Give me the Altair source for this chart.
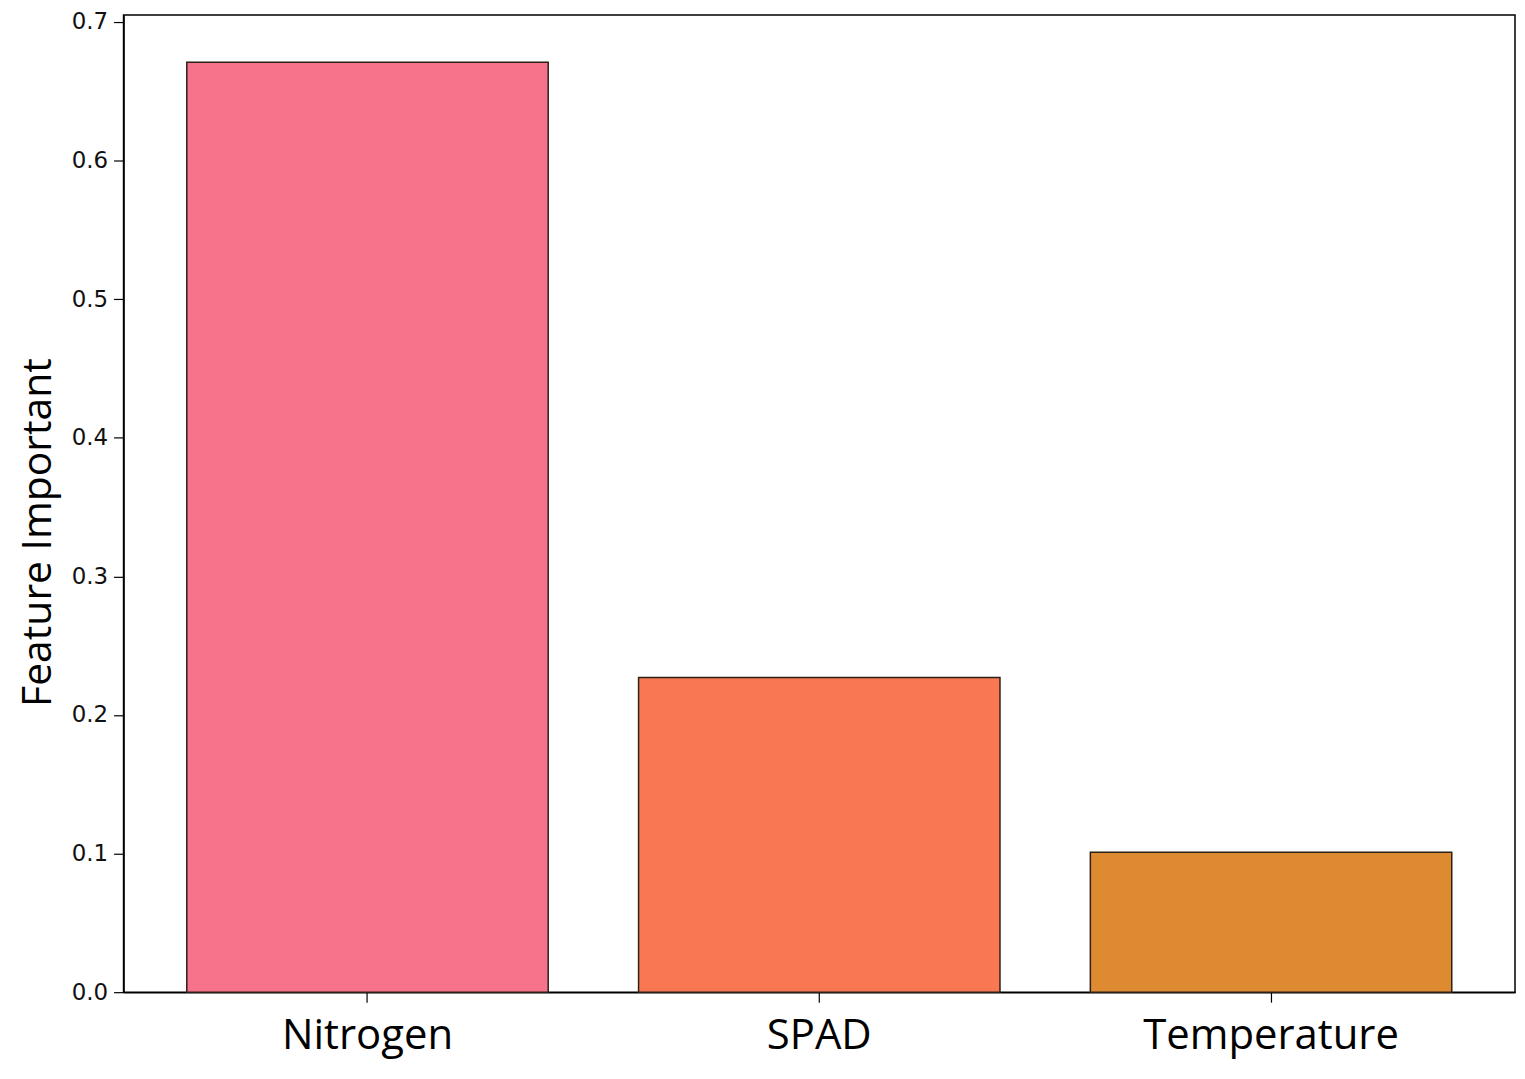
import altair as alt
import pandas as pd

features = ["Nitrogen", "SPAD", "Temperature"]
importance = [0.671, 0.227, 0.101]
colors = ["#F7738B", "#F97752", "#DE8A30"]

df = pd.DataFrame({"feature": features, "importance": importance})

chart = alt.Chart(df).mark_bar(stroke="#2b2118", strokeWidth=1.5).encode(
    x=alt.X("feature:N", sort=features,
            scale=alt.Scale(paddingInner=0.2, paddingOuter=0.14),
            axis=alt.Axis(title=None, labelAngle=0, labelFont="Open Sans",
                          labelFontSize=42, labelColor="#000000", labelLimit=0,
                          tickSize=10, tickColor="#000000", tickWidth=1.2,
                          domainColor="#000000", domainWidth=1.5,
                          labelPadding=14)),
    y=alt.Y("importance:Q",
            scale=alt.Scale(domain=[0, 0.705], nice=False),
            axis=alt.Axis(title="Feature Important", values=[0, 0.1, 0.2, 0.3, 0.4, 0.5, 0.6, 0.7],
                          format=".1f", grid=False, labelFont="DejaVu Sans",
                          labelFontSize=23, labelColor="#111111",
                          tickSize=10, tickColor="#000000", tickWidth=1.2,
                          domainColor="#000000", domainWidth=1.5,
                          labelPadding=6,
                          titleFont="Open Sans", titleFontSize=41,
                          titleFontWeight="normal", titleColor="#000000",
                          titleX=-73, titleY=519, titleBaseline="alphabetic")),
    color=alt.Color("feature:N", sort=features,
                    scale=alt.Scale(domain=features, range=colors), legend=None),
).properties(
    width=1397, height=981,
    autosize=alt.AutoSizeParams(type="none"),
    padding={"left": 116, "top": 5, "right": 2, "bottom": 70},
).configure_view(stroke="#000000", strokeWidth=1.5)

chart.save("out.html", embed_options={"renderer": "svg", "actions": False})
